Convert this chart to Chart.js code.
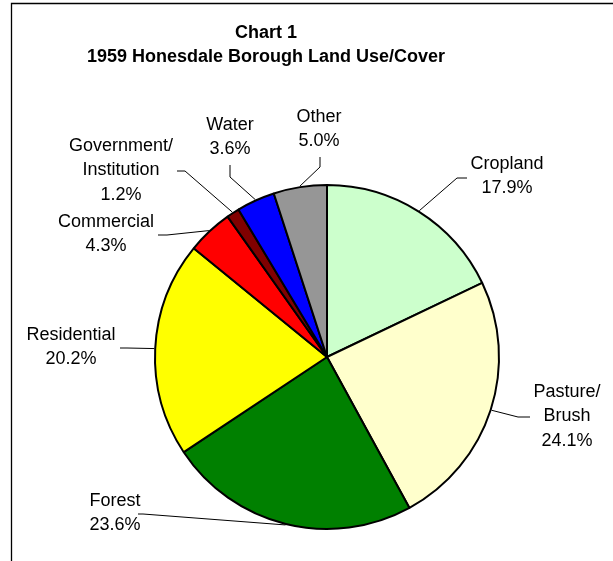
<!DOCTYPE html>
<html lang="en">
<head>
    <meta charset="UTF-8">
    <title>1959 Honesdale Borough Land Use/Cover</title>
    <style>
        body {
            margin: 0;
            background: white;
        }
        #chart-container {
            position: relative;
            width: 613px;
            height: 561px;
        }
    </style>
    <script src="https://cdn.jsdelivr.net/npm/chart.js"></script>
</head>
<body>
    <div id="chart-container">
        <canvas id="landChart"></canvas>
    </div>
    <script>
        const categories = ['Cropland', 'Pasture/\nBrush', 'Forest', 'Residential', 'Commercial', 'Government/\nInstitution', 'Water', 'Other'];
        const shares = [17.9, 24.1, 23.6, 20.2, 4.3, 1.2, 3.6, 5.0];
        const sliceColors = ['#CCFFCC', '#FFFFCC', '#008000', '#FFFF00', '#FF0000', '#800000', '#0000FF', '#969696'];
        const titleLines = ['Chart 1', '1959 Honesdale Borough Land Use/Cover'];

        // where each label sits, as offsets from the pie centre:
        // text = centre of first line, from = leader start, elbow = leader bend
        const labelSpots = [
            { text: [180, -193], from: [140, -179], elbow: [130, -179] },
            { text: [240, 35], from: [203, 60], elbow: [191, 60] },
            { text: [-212, 144], from: [-189, 157], elbow: [-184, 157] },
            { text: [-256, -22], from: [-207, -9], elbow: [-200, -9] },
            { text: [-221, -135], from: [-169, -122], elbow: [-160, -122] },
            { text: [-206, -211], from: [-150, -186], elbow: [-142, -186] },
            { text: [-97, -232], from: [-97, -192], elbow: [-97, -180] },
            { text: [-8, -240], from: [-7, -200], elbow: [-7, -190] }
        ];

        const labelFont = '18px "Liberation Sans", Arial, sans-serif';
        const lineHeight = 24.5;

        const frameAndLabels = {
            id: 'frameAndLabels',
            beforeDraw(chart) {
                const ctx = chart.ctx;
                ctx.save();
                ctx.strokeStyle = '#000';
                ctx.lineWidth = 1.3;
                ctx.beginPath();
                ctx.moveTo(11.5, chart.height);
                ctx.lineTo(11.5, 3.5);
                ctx.lineTo(chart.width, 3.5);
                ctx.stroke();

                ctx.fillStyle = '#000';
                ctx.font = 'bold 18px "Liberation Sans", Arial, sans-serif';
                ctx.textAlign = 'center';
                ctx.textBaseline = 'middle';
                titleLines.forEach((t, i) => ctx.fillText(t, 266, 33 + i * 24));
                ctx.restore();
            },
            afterDatasetsDraw(chart) {
                const ctx = chart.ctx;
                const arcs = chart.getDatasetMeta(0).data;
                ctx.save();
                ctx.font = labelFont;
                ctx.fillStyle = '#000';
                ctx.strokeStyle = '#000';
                ctx.lineWidth = 1;
                ctx.textAlign = 'center';
                ctx.textBaseline = 'middle';
                arcs.forEach((arc, i) => {
                    const p = arc.getProps(['x', 'y', 'startAngle', 'endAngle', 'outerRadius'], true);
                    const mid = (p.startAngle + p.endAngle) / 2;
                    const ex = p.x + Math.cos(mid) * (p.outerRadius + 1);
                    const ey = p.y + Math.sin(mid) * (p.outerRadius + 1);
                    const spot = labelSpots[i];

                    ctx.beginPath();
                    ctx.moveTo(p.x + spot.from[0], p.y + spot.from[1]);
                    ctx.lineTo(p.x + spot.elbow[0], p.y + spot.elbow[1]);
                    ctx.lineTo(ex, ey);
                    ctx.stroke();

                    const lines = categories[i].split('\n').concat(shares[i].toFixed(1) + '%');
                    lines.forEach((line, k) => {
                        ctx.fillText(line, p.x + spot.text[0], p.y + spot.text[1] + k * lineHeight);
                    });
                });
                ctx.restore();
            }
        };

        new Chart(document.getElementById('landChart'), {
            type: 'pie',
            data: {
                labels: categories,
                datasets: [{
                    data: shares,
                    backgroundColor: sliceColors,
                    borderColor: '#000',
                    borderWidth: 2
                }]
            },
            options: {
                responsive: true,
                maintainAspectRatio: false,
                animation: false,
                events: [],
                layout: {
                    padding: { left: 154, right: 113, top: 184, bottom: 31 }
                },
                plugins: {
                    legend: { display: false },
                    tooltip: { enabled: false }
                }
            },
            plugins: [frameAndLabels]
        });
    </script>
</body>
</html>
